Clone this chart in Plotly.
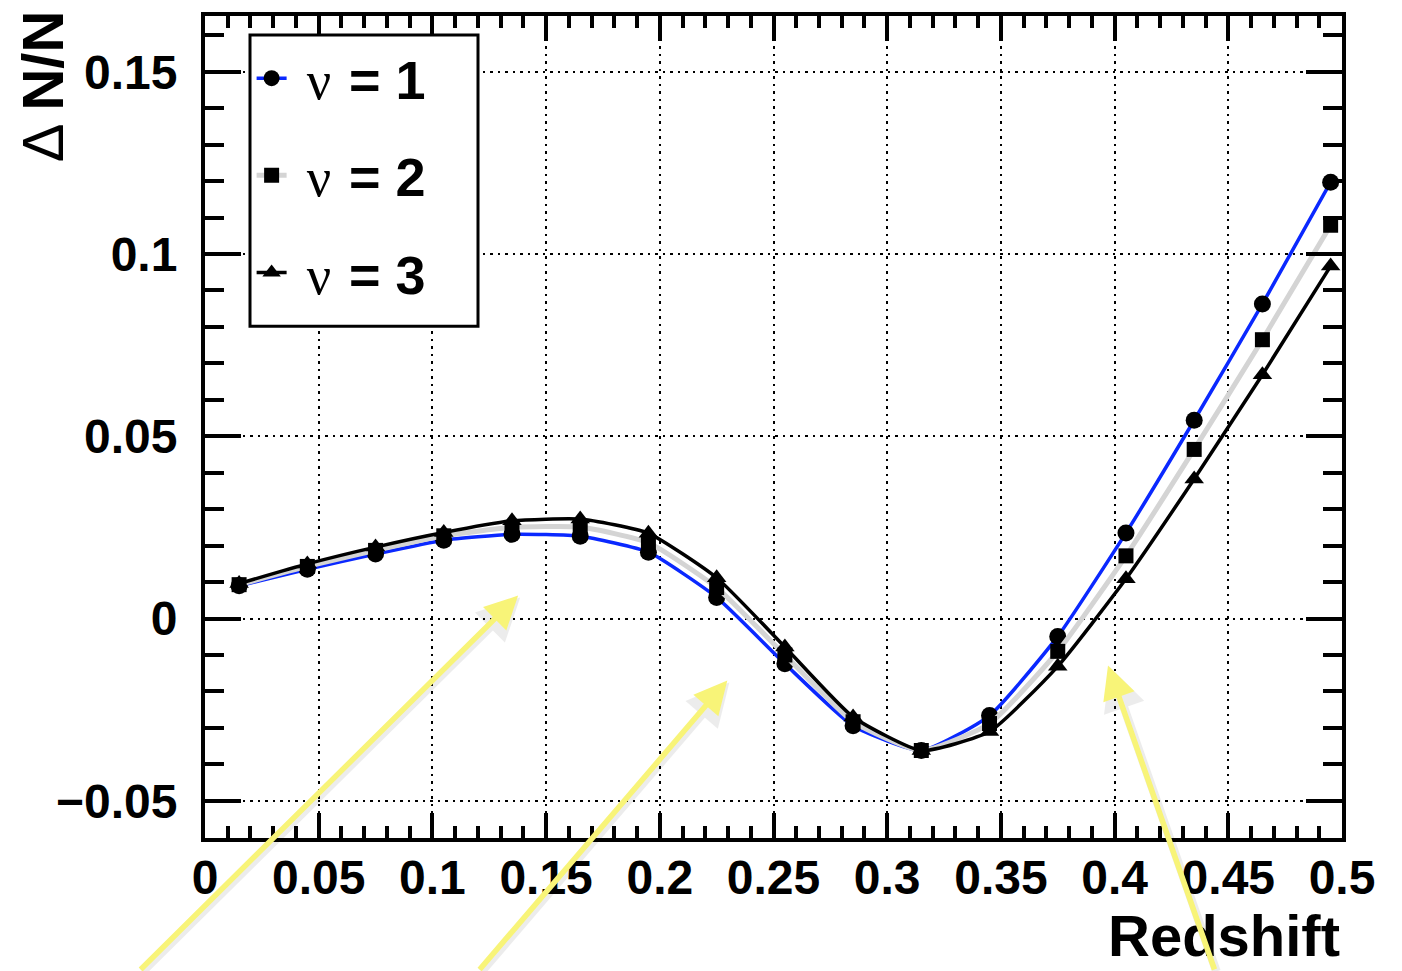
import plotly.graph_objects as go

# Redshift bin centres and relative change for the three nu values
redshift = [0.015, 0.045, 0.075, 0.105, 0.135, 0.165, 0.195, 0.225, 0.255,
            0.285, 0.315, 0.345, 0.375, 0.405, 0.435, 0.465, 0.495]
dn_nu1 = [0.0090, 0.0135, 0.0177, 0.0215, 0.0231, 0.0226, 0.0182, 0.0058, -0.0124,
          -0.0294, -0.0362, -0.0266, -0.0049, 0.0235, 0.0544, 0.0863, 0.1197]
dn_nu2 = [0.0093, 0.0143, 0.0187, 0.0227, 0.0250, 0.0251, 0.0208, 0.0085, -0.0100,
          -0.0283, -0.0362, -0.0288, -0.0090, 0.0172, 0.0464, 0.0765, 0.1079]
dn_nu3 = [0.0096, 0.0150, 0.0196, 0.0236, 0.0268, 0.0273, 0.0234, 0.0112, -0.0078,
          -0.0270, -0.0362, -0.0310, -0.0131, 0.0109, 0.0383, 0.0669, 0.0967]

x_ticks = [0, 0.05, 0.1, 0.15, 0.2, 0.25, 0.3, 0.35, 0.4, 0.45, 0.5]
x_tick_text = ["0", "0.05", "0.1", "0.15", "0.2", "0.25", "0.3", "0.35", "0.4", "0.45", "0.5"]
y_ticks = [-0.05, 0, 0.05, 0.1, 0.15]
y_tick_text = ["\u22120.05", "0", "0.05", "0.1", "0.15"]

series = [
    ("nu1", dn_nu1, "1", "rgb(10,40,255)", 3.5, "circle", 17),
    ("nu2", dn_nu2, "2", "rgb(212,212,212)", 5, "square", 15),
    ("nu3", dn_nu3, "3", "black", 3.5, "triangle-up", 17),
]

fig = go.Figure()
for key, vals, label, col, lw, sym, ms in series:
    fig.add_trace(go.Scatter(
        x=redshift, y=vals, mode="lines+markers",
        name=" <span style='font-family:Liberation Serif;font-weight:normal'>\u03bd</span><b>\u2004= " + label + "</b>",
        legendgroup=key,
        line=dict(color=col, width=lw, shape="spline", smoothing=0.5),
        marker=dict(symbol=sym, size=ms, color="black", line=dict(width=0)),
        cliponaxis=False,
    ))

font_main = "Liberation Sans"
axis_common = dict(
    showline=True, linecolor="black", linewidth=4, mirror="allticks",
    ticks="inside", tickcolor="black", tickwidth=3.5,
    showgrid=True, gridcolor="black", gridwidth=1.5, griddash="2.5px,5px",
    zeroline=False,
    tickfont=dict(family=font_main, size=48, color="black", weight="bold"),
)

fig.update_xaxes(
    range=[0, 0.5], tickvals=x_ticks, ticktext=x_tick_text, ticklen=25,
    minor=dict(dtick=0.01, ticks="inside", ticklen=12, tickwidth=3.5, tickcolor="black", showgrid=False),
    ticklabelstandoff=-6,
    **axis_common,
)
fig.update_yaxes(
    range=[-0.0602, 0.1653], tickvals=y_ticks, ticktext=y_tick_text, ticklen=36,
    minor=dict(dtick=0.01, tick0=0, ticks="inside", ticklen=19, tickwidth=3.5, tickcolor="black", showgrid=False),
    ticklabelstandoff=14,
    **axis_common,
)

# Axis titles in the corners
fig.add_annotation(
    text="Redshift", xref="paper", yref="paper", x=1.0, y=-0.161,
    xanchor="right", yanchor="bottom", showarrow=False,
    font=dict(family=font_main, size=58, color="black", weight="bold"),
)
fig.add_annotation(
    text="\u0394 <b>N/N</b>", xref="paper", yref="paper", x=-0.143, y=1.01,
    xanchor="center", yanchor="top", textangle=-90, showarrow=False,
    font=dict(family=font_main, size=58, color="black"),
)

# Highlighting arrows: (head x, head y, tail offset x, tail offset y) in data / pixel units
arrows = [
    (0.1377, 0.0063, -379, 395),
    (0.2297, -0.0170, -249, 310),
    (0.3971, -0.0129, 107, 325),
]
for hx, hy, ax, ay in arrows:
    fig.add_annotation(
        x=hx, y=hy, ax=ax, ay=ay, text="", showarrow=True,
        arrowhead=2, arrowsize=1.0, arrowwidth=8.5, arrowcolor="rgba(0,0,0,0.07)",
        xshift=2, yshift=-2,
    )
    fig.add_annotation(
        x=hx, y=hy, ax=ax, ay=ay, text="", showarrow=True,
        arrowhead=2, arrowsize=1.2, arrowwidth=5.5, arrowcolor="#f8f478",
    )

# Legend frame drawn as a paper-space box behind the legend entries
fig.add_shape(
    type="rect", xref="paper", yref="paper",
    x0=(250 - 205) / 1137, x1=(478 - 205) / 1137,
    y0=(838 - 325) / 824, y1=(838 - 33) / 824,
    line=dict(color="black", width=3), fillcolor="white", layer="above",
)

fig.update_layout(
    width=1402, height=971,
    margin=dict(l=205, r=60, t=14, b=133),
    paper_bgcolor="white", plot_bgcolor="white",
    showlegend=True,
    legend=dict(
        x=0.041, y=0.975, xanchor="left", yanchor="top",
        bgcolor="rgba(0,0,0,0)", borderwidth=0,
        font=dict(family=font_main, size=54, color="black"),
        tracegroupgap=24, itemsizing="trace",
    ),
)

fig.write_html("out.html")
